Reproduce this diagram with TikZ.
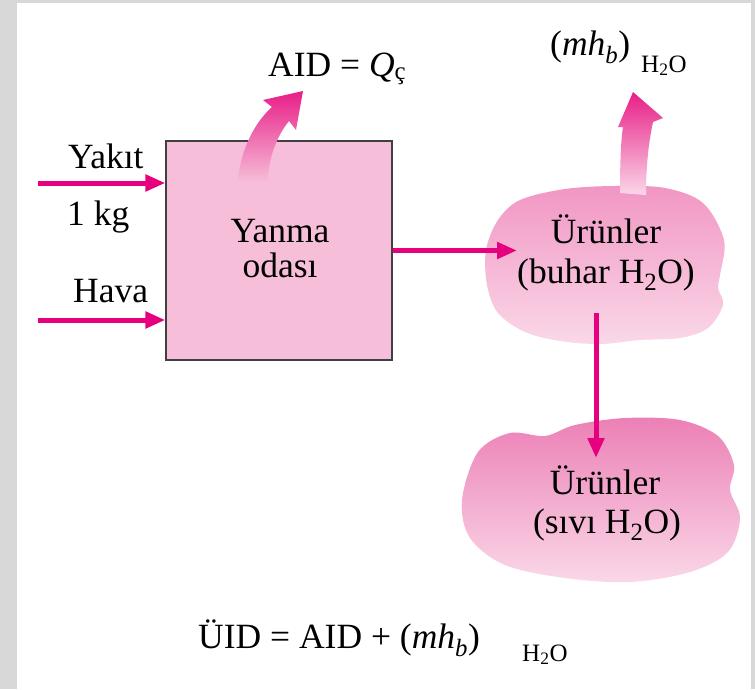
\documentclass[tikz,border=0pt]{standalone}
\usepackage{fontspec}
\setmainfont{Liberation Serif}
\usetikzlibrary{arrows.meta}
\definecolor{mag}{RGB}{230,0,126}
\definecolor{boxpink}{RGB}{246,190,216}
\definecolor{frame}{RGB}{216,216,216}
\definecolor{cloudA}{RGB}{241,150,195}
\definecolor{cloudB}{RGB}{236,128,182}
\definecolor{cloudC}{RGB}{250,216,232}
\definecolor{fatTop}{RGB}{232,30,135}
\tikzset{
  flow/.style={mag, line width=5pt, -{Triangle[length=20pt,width=16pt]}},
  lbl/.style={font=\fontsize{35.5}{40}\selectfont, inner sep=0pt},
  sublbl/.style={font=\fontsize{25}{30}\selectfont, inner sep=0pt},
  fatarrow/.style={draw=none}
}
\begin{document}
\begin{tikzpicture}[x=1pt,y=-1pt]
\fill[frame] (0,0) rectangle (755,689);
\fill[white] (17,3) rectangle (751,689);
\useasboundingbox (0,0) rectangle (755,689);

% combustion chamber
\node[draw=black!75, line width=1.2pt, fill=boxpink, minimum width=226pt, minimum height=219pt, inner sep=0pt] (box) at (279,250.5) {};
\node[lbl, anchor=base] (yanma) at (280,242) {Yanma};
\node[lbl, anchor=base] (odasi) at (280,277) {odası};

% heat arrow from chamber
\shade[fatarrow, top color=fatTop, bottom color=boxpink]
  (238,182) .. controls (240,150) and (255,122) .. (272,107) -- (263,100) -- (303,91) -- (296,130) -- (289,121) .. controls (276,137) and (268,160) .. (268,182) -- cycle;

% clouds
\shade[top color=cloudA, middle color=cloudB, bottom color=cloudC]
  plot[smooth cycle, tension=0.55] coordinates {(520,200) (565,189) (615,186) (665,188) (703,203) (724,240) (720,275) (718,288) (723,305) (708,328) (680,338) (640,340) (600,344) (560,341) (525,332) (498,313) (487,285) (486,250) (498,220)};
\shade[top color=cloudB, middle color=cloudA, bottom color=cloudC]
  plot[smooth cycle, tension=0.55] coordinates {(478,452) (510,433) (545,436) (575,425) (625,418) (680,420) (718,436) (734,465) (730,490) (740,518) (728,552) (690,572) (630,582) (565,578) (505,565) (470,538) (462,500)};

% vapour arrow from products
\shade[fatarrow, top color=fatTop, bottom color=cloudC]
  (620,193) .. controls (620,160) and (621,140) .. (623,127) -- (618,127) -- (633,92) -- (663,118) -- (653,122) .. controls (648,145) and (646,170) .. (646,195) -- cycle;

\node[lbl, anchor=base] (urun1) at (606,243) {Ürünler};
\node[lbl, anchor=base] (buhar) at (606,283) {(buhar H\textsubscript{2}O)};
\node[lbl, anchor=base] (urun2) at (605,494) {Ürünler};
\node[lbl, anchor=base] (sivi) at (607,533) {(sıvı H\textsubscript{2}O)};

% flows
\coordinate (yin) at (38,183);
\coordinate (hin) at (38,320);
\coordinate (c1in) at (517,250.5);
\coordinate (c1out) at (596,313);
\coordinate (c2in) at (596,458);
\draw[flow] (yin) -- (yin -| box.west);
\draw[flow] (hin) -- (hin -| box.west);
\draw[flow] (box.east) -- (c1in);
\draw[flow] (c1out) -- (c2in);

% labels
\node[lbl, anchor=base west] (yakit) at (68,168) {Yakıt};
\node[lbl, anchor=base west] (kg) at (67,225) {1 kg};
\node[lbl, anchor=base west] (hava) at (73,302) {Hava};
\node[lbl, anchor=base west] (aid) at (268,76) {AID = \textit{Q}\textsubscript{ç}};
\node[lbl, anchor=base west] (mhb) at (550,55) {(\textit{mh}\textsubscript{\textit{b}})};
\node[sublbl, anchor=base west] (hto) at (641,72) {H\textsubscript{2}O};
\node[lbl, anchor=base west] (uid) at (198,648) {ÜID = AID + (\textit{mh}\textsubscript{\textit{b}})};
\node[sublbl, anchor=base west] (htob) at (522,661) {H\textsubscript{2}O};
\end{tikzpicture}
\end{document}
